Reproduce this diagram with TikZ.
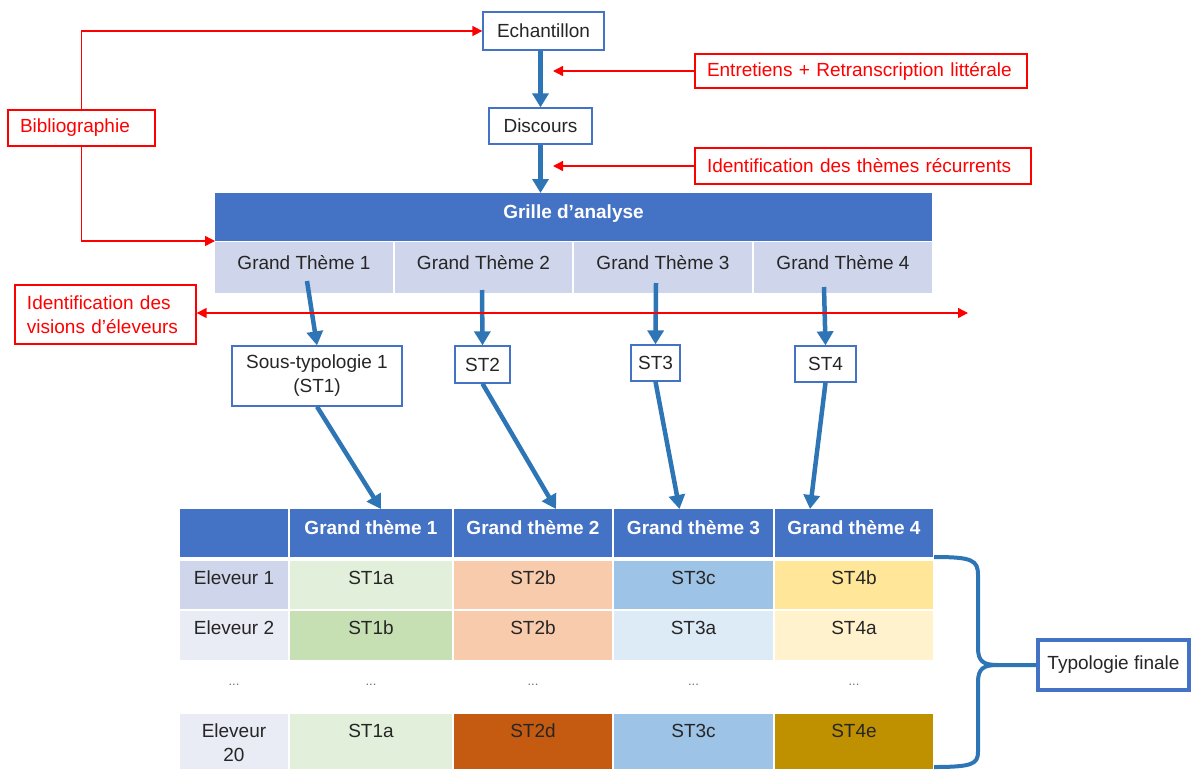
\documentclass[tikz,border=0pt]{standalone}
\usepackage{fontspec}
\setmainfont{Liberation Sans}
\usetikzlibrary{positioning, arrows.meta}

\definecolor{hdrblue}{HTML}{4472C4}
\definecolor{boxblue}{HTML}{4472C4}
\definecolor{arrowblue}{HTML}{2E75B6}
\definecolor{themefill}{HTML}{CFD5EA}
\definecolor{lavdark}{HTML}{CFD5EA}
\definecolor{lavlight}{HTML}{E9EBF5}
\definecolor{txt}{HTML}{262626}
\definecolor{dotgray}{HTML}{707070}
\definecolor{stia}{HTML}{E2EFDA}
\definecolor{stib}{HTML}{C6E0B4}
\definecolor{stiib}{HTML}{F8CBAD}
\definecolor{stiid}{HTML}{C55A11}
\definecolor{stiiic}{HTML}{9DC3E6}
\definecolor{stiiia}{HTML}{DDEBF7}
\definecolor{stivb}{HTML}{FFE699}
\definecolor{stiva}{HTML}{FFF2CC}
\definecolor{stive}{HTML}{BF9000}

\newcommand{\fs}{\fontsize{19}{24}\selectfont}
\newcommand{\fsdots}{\fontsize{13}{15}\selectfont}

\tikzset{
  flowbox/.style={draw=boxblue, line width=1.3pt, fill=white, font=\fs, text=txt, align=center, inner sep=0pt},
  notebox/.style={draw=red, line width=1.3pt, text=red, font=\fs, align=left, inner xsep=12pt, inner ysep=0pt},
  flowarrow/.style={arrowblue, line width=4.5pt, -{Triangle[length=14pt,width=16pt]}},
  notearrow/.style={red, line width=1.4pt, -{Triangle[length=10pt,width=10pt]}},
  tabcell/.style={inner sep=0pt, outer sep=0pt, font=\fs, text=txt},
  hdrcell/.style={tabcell, fill=hdrblue, text=white, font=\fs\bfseries, text height=25pt, text depth=23pt},
  themecell/.style={tabcell, fill=themefill, text height=27pt, text depth=24pt},
  rowcell/.style={tabcell, text height=23pt, text depth=#1},
  dotcell/.style={tabcell, font=\fsdots, text=dotgray, text height=23pt, text depth=27pt},
}

\begin{document}
\begin{tikzpicture}[x=1pt,y=-1pt]
\useasboundingbox (0,0) rectangle (1192,769);

% main flow
\node[flowbox, minimum width=121pt, minimum height=38pt] (echant) at (543.5,31) {Echantillon};
\node[flowbox, minimum width=103pt, minimum height=36pt] (disc) at (540.5,126) {Discours};

% notes
\node[notebox, text width=123pt, minimum height=36pt] (biblio) at (81.5,128) {Bibliographie};
\node[notebox, text width=308pt, minimum height=34pt] (entret) at (861,71) {Entretiens + Retranscription littérale};
\node[notebox, text width=312pt, minimum height=36pt] (themes) at (863,166) {Identification des thèmes récurrents};
\node[notebox, text width=157pt, minimum height=59pt] (visions) at (105.5,314.5) {Identification des\\visions d’éleveurs};

% grille d'analyse
\node[hdrcell, minimum width=717pt, anchor=north west] (grille) at (215,193) {Grille d’analyse};
\node[themecell, minimum width=178pt, anchor=north west] (gt1) at (215,242) {Grand Thème 1};
\node[themecell, minimum width=177pt] (gt2) [right=2pt of gt1] {Grand Thème 2};
\node[themecell, minimum width=178pt] (gt3) [right=2pt of gt2] {Grand Thème 3};
\node[themecell, minimum width=178pt] (gt4) [right=2pt of gt3] {Grand Thème 4};

% sous-typologies
\node[flowbox, minimum width=170pt, minimum height=60pt] (st1) at (317,376) {Sous-typologie 1\\(ST1)};
\node[flowbox, minimum width=55pt, minimum height=37pt] (st2) at (482.5,364.5) {ST2};
\node[flowbox, minimum width=49pt, minimum height=36pt] (st3) at (655.5,363) {ST3};
\node[flowbox, minimum width=61pt, minimum height=36pt] (st4) at (825.5,364) {ST4};

% tableau final
\node[hdrcell, minimum width=108pt, anchor=north west] (h0) at (180,509) {};
\node[hdrcell, minimum width=162pt] (h1) [right=2pt of h0] {Grand thème 1};
\node[hdrcell, minimum width=158pt] (h2) [right=2pt of h1] {Grand thème 2};
\node[hdrcell, minimum width=159pt] (h3) [right=2pt of h2] {Grand thème 3};
\node[hdrcell, minimum width=158pt] (h4) [right=2pt of h3] {Grand thème 4};

\node[rowcell=25pt, fill=lavdark, minimum width=108pt] (e1) [below=4pt of h0] {Eleveur 1};
\node[rowcell=25pt, fill=stia, minimum width=162pt] (c11) [right=2pt of e1] {ST1a};
\node[rowcell=25pt, fill=stiib, minimum width=158pt] (c12) [right=2pt of c11] {ST2b};
\node[rowcell=25pt, fill=stiiic, minimum width=159pt] (c13) [right=2pt of c12] {ST3c};
\node[rowcell=25pt, fill=stivb, minimum width=158pt] (c14) [right=2pt of c13] {ST4b};

\node[rowcell=26pt, fill=lavlight, minimum width=108pt] (e2) [below=2pt of e1] {Eleveur 2};
\node[rowcell=26pt, fill=stib, minimum width=162pt] (c21) [right=2pt of e2] {ST1b};
\node[rowcell=26pt, fill=stiib, minimum width=158pt] (c22) [right=2pt of c21] {ST2b};
\node[rowcell=26pt, fill=stiiia, minimum width=159pt] (c23) [right=2pt of c22] {ST3a};
\node[rowcell=26pt, fill=stiva, minimum width=158pt] (c24) [right=2pt of c23] {ST4a};

\node[dotcell, minimum width=108pt] (d0) [below=2pt of e2] {...};
\node[dotcell, minimum width=162pt] (d1) [right=2pt of d0] {...};
\node[dotcell, minimum width=158pt] (d2) [right=2pt of d1] {...};
\node[dotcell, minimum width=159pt] (d3) [right=2pt of d2] {...};
\node[dotcell, minimum width=158pt] (d4) [right=2pt of d3] {...};

\node[rowcell=32pt, fill=lavlight, minimum width=108pt] (e20) [below=2pt of d0] {\begin{tabular}[t]{@{}c@{}}Eleveur\\20\end{tabular}};
\node[rowcell=32pt, fill=stia, minimum width=162pt] (c31) [right=2pt of e20] {ST1a};
\node[rowcell=32pt, fill=stiid, minimum width=158pt] (c32) [right=2pt of c31] {ST2d};
\node[rowcell=32pt, fill=stiiic, minimum width=159pt] (c33) [right=2pt of c32] {ST3c};
\node[rowcell=32pt, fill=stive, minimum width=158pt] (c34) [right=2pt of c33] {ST4e};

\node[draw=boxblue, line width=4pt, fill=white, font=\fs, text=txt, inner sep=0pt, minimum width=151pt, minimum height=50pt] (typo) at (1113.5,665) {Typologie finale};

% free ends
\coordinate (n1) at (553,71);
\coordinate (n2) at (553,166);
\coordinate (n3) at (968,313);
\coordinate (g1) at (307,281);
\coordinate (g2) at (482,290);
\coordinate (g3) at (656,283);
\coordinate (g4) at (824,287);

% arrows
\draw[flowarrow] (disc.north |- echant.south) -- (disc.north);
\draw[flowarrow] (disc.south) -- (disc.south |- grille.north);
\draw[flowarrow] (g1) -- (st1.north);
\draw[flowarrow] (g2) -- (st2.north);
\draw[flowarrow] (g3) -- (st3.north);
\draw[flowarrow] (g4) -- (st4.north);
\draw[flowarrow] (st1.south) -- ([xshift=10pt]h1.north);
\draw[flowarrow] (st2.south) -- ([xshift=23pt]h2.north);
\draw[flowarrow] (st3.south) -- ([xshift=-14pt]h3.north);
\draw[flowarrow] (st4.south) -- ([xshift=-44pt]h4.north);

\draw[notearrow] (biblio.north) |- (echant.west);
\draw[notearrow] (biblio.south) |- (grille.south west);
\draw[notearrow] (entret.west) -- (n1);
\draw[notearrow] (themes.west) -- (n2);
\draw[notearrow, {Triangle[length=10pt,width=10pt]}-{Triangle[length=10pt,width=10pt]}] (visions.east |- n3) -- (n3);

% accolade
\draw[arrowblue, line width=4pt] ([xshift=1pt]h4.south east) .. controls (972,557) and (978,560) .. (978,575)
  -- (978,648) .. controls (978,662) and (984,665) .. (998,665) -- (typo.west);
\draw[arrowblue, line width=4pt] (998,665) .. controls (984,665) and (978,668) .. (978,682)
  -- (978,752) .. controls (978,764) and (972,767) .. ([xshift=1pt,yshift=2pt]c34.south east);
\end{tikzpicture}
\end{document}
